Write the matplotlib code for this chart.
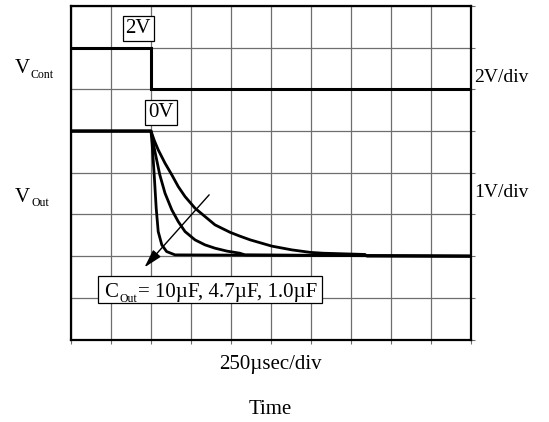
import numpy as np
import matplotlib.pyplot as plt
from matplotlib.patches import Rectangle

plt.rcParams['font.family'] = ['Liberation Serif', 'DejaVu Serif']

# time in divisions (250 usec/div), trace level in divisions
cont_t = [0, 2, 2, 10]
cont_v = [7, 7, 6, 6]

out_1uF_t = [0, 2, 2.03, 2.08, 2.13, 2.18, 2.27, 2.39, 2.6, 10]
out_1uF_v = [5, 5, 4.67, 3.95, 3.15, 2.59, 2.27, 2.11, 2.03, 2.0]

out_4u7F_t = [0, 2, 2.1, 2.22, 2.35, 2.52, 2.68, 2.85, 3.1, 3.35, 3.6, 3.9, 4.22, 4.35, 10]
out_4u7F_v = [5, 5, 4.5, 3.95, 3.51, 3.11, 2.83, 2.59, 2.39, 2.27, 2.19, 2.12, 2.07, 2.03, 2.0]

out_10uF_t = [0, 2, 2.08, 2.18, 2.35, 2.52, 2.68, 2.85, 3.1, 3.35, 3.6, 3.81, 3.98,
              4.22, 4.48, 5.02, 5.52, 5.98, 6.3, 7.35, 7.4, 10]
out_10uF_v = [5, 5, 4.78, 4.55, 4.23, 3.95, 3.67, 3.43, 3.15, 2.95, 2.75, 2.65, 2.57,
              2.48, 2.39, 2.24, 2.15, 2.09, 2.07, 2.04, 2.0, 2.0]

fig = plt.figure(figsize=(5.49, 4.22), dpi=100)
ax = fig.add_axes([71/549, 1 - 339.5/422, 400/549, 333.5/422])
ax.set_xlim(0, 10)
ax.set_ylim(0, 8)
ax.set_xticks(np.arange(0, 11, 1))
ax.set_yticks(np.arange(0, 9, 1))
ax.set_xticklabels([])
ax.set_yticklabels([])
ax.grid(True, color='#6e6e6e', lw=0.9)
ax.tick_params(axis='both', length=3, color='#6e6e6e', bottom=True, left=False,
               right=True, direction='out')
for s in ax.spines.values():
    s.set_linewidth(1.6)

ax.plot(cont_t, cont_v, color='black', lw=2.2, solid_joinstyle='miter')
ax.plot(out_10uF_t, out_10uF_v, color='black', lw=2.0)
ax.plot(out_4u7F_t, out_4u7F_v, color='black', lw=2.0)
ax.plot(out_1uF_t, out_1uF_v, color='black', lw=2.0)

ax.annotate('', xy=(1.79, 1.68), xytext=(3.5, 3.52),
            arrowprops=dict(arrowstyle='-|>,head_length=0.8,head_width=0.22',
                            color='black', lw=1.0, mutation_scale=14))

box = dict(boxstyle='square,pad=0.14', fc='white', ec='black', lw=0.9)
ax.text(1.68, 7.47, '2V', fontsize=15, ha='center', va='center', bbox=box)
ax.text(2.25, 5.44, '0V', fontsize=15, ha='center', va='center', bbox=box)

# C_Out label box
ax.add_patch(Rectangle((0.68, 0.87), 5.6, 0.66, fc='white', ec='black', lw=0.9, zorder=3))
ax.text(0.83, 1.01, 'C', fontsize=15, ha='left', va='baseline', zorder=4)
ax.text(1.225, 0.907, 'Out', fontsize=8.5, ha='left', va='baseline', zorder=4)
ax.text(1.68, 1.01, '= 10µF, 4.7µF, 1.0µF', fontsize=15, ha='left', va='baseline', zorder=4)

fig.text(15/549, 1 - 73.3/422, 'V', fontsize=15, ha='left', va='baseline')
fig.text(30.7/549, 1 - 78.3/422, 'Cont', fontsize=8.5, ha='left', va='baseline')
fig.text(15/549, 1 - 201.7/422, 'V', fontsize=15, ha='left', va='baseline')
fig.text(31.7/549, 1 - 206.5/422, 'Out', fontsize=8.5, ha='left', va='baseline')
fig.text(474/549, 1 - 77/422, '2V/div', fontsize=14, ha='left', va='center')
fig.text(474/549, 1 - 192/422, '1V/div', fontsize=14, ha='left', va='center')
fig.text(270/549, 1 - 365/422, '250µsec/div', fontsize=15, ha='center', va='center')
fig.text(270/549, 1 - 410/422, 'Time', fontsize=15, ha='center', va='center')

fig.savefig('out.png', dpi=100)
